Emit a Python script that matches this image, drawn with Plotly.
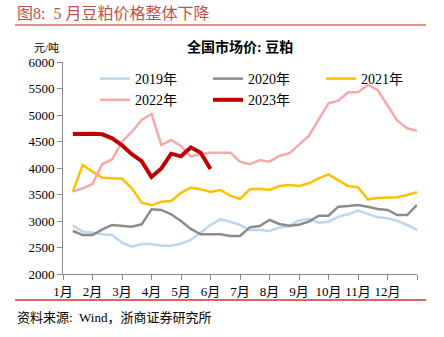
import plotly.graph_objects as go

# 旬度序号 (每月3旬, 共36旬)
periods = list(range(1, 37))
month_labels = ["1月", "2月", "3月", "4月", "5月", "6月", "7月", "8月", "9月", "10月", "11月", "12月", ""]

y2019 = [2912, 2799, 2780, 2749, 2736, 2591, 2516, 2566, 2566, 2535, 2535, 2570,
         2642, 2780, 2925, 3032, 2987, 2925, 2830, 2830, 2811, 2874, 2906, 3010,
         3038, 2968, 2987, 3082, 3126, 3195, 3132, 3069, 3050, 3006, 2925, 2830]
y2020 = [2811, 2736, 2736, 2843, 2925, 2906, 2893, 2937, 3220, 3208, 3126, 3000,
         2850, 2749, 2749, 2749, 2717, 2717, 2880, 2906, 3019, 2943, 2912, 2930,
         2987, 3100, 3100, 3270, 3283, 3302, 3270, 3226, 3208, 3113, 3113, 3302]
y2021 = [3553, 4057, 3931, 3818, 3805, 3799, 3617, 3346, 3296, 3365, 3377, 3530,
         3629, 3598, 3547, 3585, 3478, 3415, 3598, 3610, 3585, 3660, 3679, 3660,
         3711, 3805, 3881, 3774, 3660, 3635, 3409, 3434, 3434, 3447, 3491, 3541]
y2022 = [3553, 3617, 3698, 4075, 4164, 4497, 4685, 4906, 5019, 4434, 4528, 4415,
         4213, 4264, 4289, 4289, 4289, 4120, 4070, 4150, 4120, 4226, 4277, 4440,
         4604, 4919, 5220, 5270, 5428, 5428, 5566, 5472, 5170, 4893, 4749, 4704]
y2023 = [4640, 4650, 4645, 4635, 4560, 4430, 4260, 4130, 3830, 3990, 4270, 4220,
         4390, 4290, 3980]

series = [
    ("2019年", y2019, "#bdd7ee", 2.5),
    ("2020年", y2020, "#8c8c8c", 2.5),
    ("2021年", y2021, "#ffc000", 2.5),
    ("2022年", y2022, "#f7a8a8", 2.5),
    ("2023年", y2023, "#c00000", 4),
]

fig = go.Figure()
for name, ys, color, w in series:
    fig.add_trace(go.Scatter(
        x=periods[:len(ys)], y=ys, name=name, mode="lines",
        line=dict(color=color, width=w),
    ))

font_fam = "Liberation Serif, Noto Sans CJK SC, serif"
axis_color = "#8c8c8c"

W, H = 444, 337
ML, MR, MT, MB = 63, 27, 62, 63
plot_w = W - ML - MR
plot_h = H - MT - MB


def px_x(p):
    return (p - ML) / plot_w


def px_y(p):
    return (H - MB - p) / plot_h


fig.update_layout(
    width=W, height=H,
    margin=dict(l=ML, r=MR, t=MT, b=MB, autoexpand=False),
    paper_bgcolor="white", plot_bgcolor="white",
    font=dict(family=font_fam, size=13, color="black"),
    showlegend=True,
    legend=dict(
        orientation="h", xref="container", yref="container",
        x=95 / W, y=1 - 63 / H, xanchor="left", yanchor="top",
        entrywidth=68, entrywidthmode="pixels",
        font=dict(size=14, family=font_fam), bgcolor="rgba(0,0,0,0)",
    ),
    xaxis=dict(
        range=[0, 36], tickmode="array",
        tickvals=list(range(0, 37, 3)), ticktext=month_labels,
        showgrid=False, zeroline=False,
        showline=True, linecolor=axis_color, linewidth=1,
        ticks="outside", ticklen=5, tickcolor=axis_color,
        tickfont=dict(size=13, family=font_fam),
    ),
    yaxis=dict(
        range=[2000, 6000], dtick=500, tick0=2000,
        showgrid=False, zeroline=False,
        showline=True, linecolor=axis_color, linewidth=1,
        ticks="outside", ticklen=5, tickcolor=axis_color,
        tickfont=dict(size=13, family=font_fam),
    ),
    annotations=[
        dict(text="图8:  5 月豆粕价格整体下降", x=px_x(15), y=px_y(13), xref="paper", yref="paper",
             showarrow=False, xanchor="left", yanchor="middle",
             font=dict(size=16, color="#c0504d", family=font_fam)),
        dict(text="<b>全国市场价: 豆粕</b>", x=0.5, y=1.0, xref="paper", yref="paper",
             showarrow=False, xanchor="center", yanchor="bottom", yshift=5,
             font=dict(size=14, color="black", family=font_fam)),
        dict(text="元/吨", x=0, y=1.0, xref="paper", yref="paper",
             showarrow=False, xanchor="right", yanchor="bottom", yshift=6, xshift=-2,
             font=dict(size=11, color="black", family=font_fam)),
        dict(text="资料来源:  Wind，浙商证券研究所", x=px_x(15), y=px_y(317), xref="paper", yref="paper",
             showarrow=False, xanchor="left", yanchor="middle",
             font=dict(size=13, color="black", family=font_fam)),
    ],
)

fig.add_shape(type="line", xref="paper", yref="paper",
              x0=px_x(15), x1=px_x(426), y0=px_y(25), y1=px_y(25),
              line=dict(color="#e06666", width=1.5))
fig.add_shape(type="line", xref="paper", yref="paper",
              x0=px_x(15), x1=px_x(426), y0=px_y(300), y1=px_y(300),
              line=dict(color="#d03030", width=1.5))

fig.write_html("out.html")
